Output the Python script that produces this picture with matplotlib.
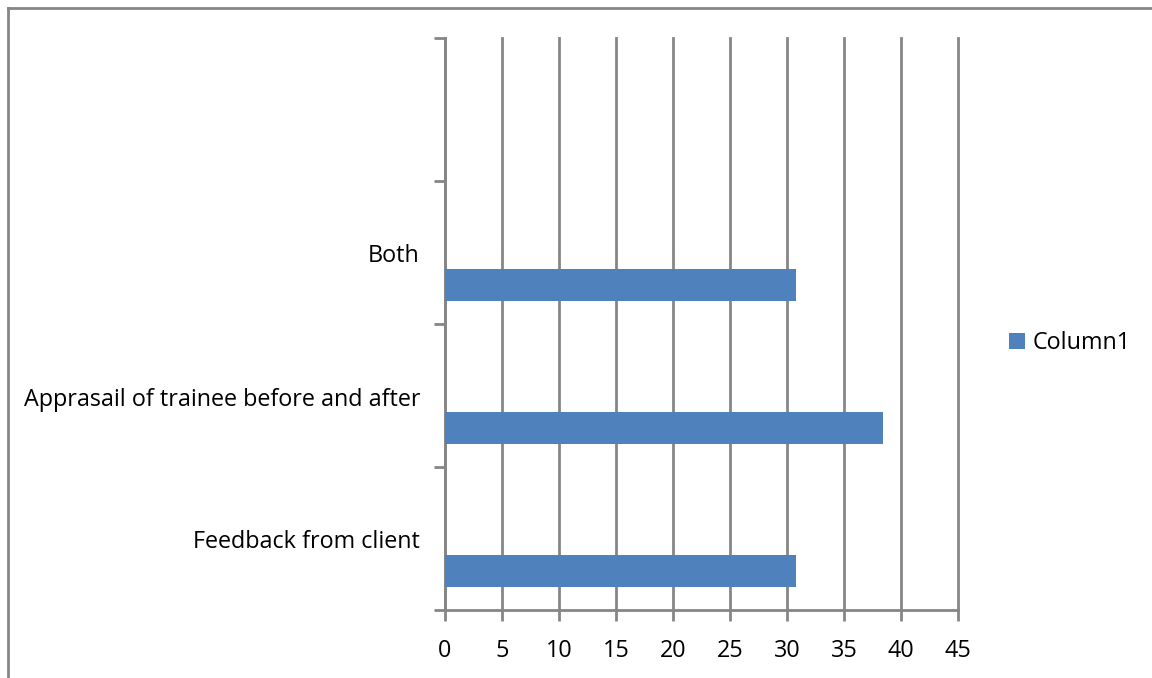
import numpy as np
import matplotlib.pyplot as plt
import matplotlib.transforms as mtransforms
from matplotlib.patches import Patch
from matplotlib.lines import Line2D

# ==========================================================
# DATA
# ==========================================================

categories = ["Feedback from client", "Apprasail of trainee before and after", "Both", ""]
values = [30.77, 38.46, 30.77, np.nan]
series_name = "Column1"
x_ticks = [0, 5, 10, 15, 20, 25, 30, 35, 40, 45]

BAR_COLOR = "#4f81bd"
GRID_COLOR = "#868686"
FS = 16.8

plt.rcParams["font.family"] = ["Open Sans", "DejaVu Sans"]

fig = plt.figure(figsize=(11.52, 6.78), dpi=100)
ax = fig.add_axes([445 / 1152, 68 / 678, 513 / 1152, 572 / 678])

# ==========================================================
# BARS (first series sits low in each category slot)
# ==========================================================

pos = np.arange(len(categories))
ax.barh(pos - 0.23, values, height=0.225, color=BAR_COLOR, zorder=3)

ax.set_xlim(0, 45)
ax.set_ylim(-0.5, len(categories) - 0.5)

ax.set_xticks(x_ticks)
ax.set_xticklabels([str(t) for t in x_ticks], fontsize=FS)
ax.xaxis.grid(True, color=GRID_COLOR, linewidth=2, zorder=0)
for gl in ax.get_xgridlines():
    gl.set_clip_on(False)
ax.tick_params(axis="x", length=8, width=2, color=GRID_COLOR, pad=13)

# category labels at slot centres, tick marks on slot borders
ax.set_yticks(pos)
ax.set_yticklabels(categories, fontsize=FS, va="center")
ax.tick_params(axis="y", which="major", length=0, pad=18)
ax.set_yticks(np.arange(len(categories) + 1) - 0.5, minor=True)
ax.tick_params(axis="y", which="minor", length=8, width=2, color=GRID_COLOR)
shift = mtransforms.ScaledTranslation(0, -4 / 100, fig.dpi_scale_trans)
for lbl in ax.get_yticklabels():
    lbl.set_transform(lbl.get_transform() + shift)

for side in ["top", "right"]:
    ax.spines[side].set_visible(False)
for side in ["left", "bottom"]:
    ax.spines[side].set_color(GRID_COLOR)
    ax.spines[side].set_linewidth(2)

# ==========================================================
# LEGEND
# ==========================================================

handle = Patch(facecolor=BAR_COLOR, edgecolor="none")
fig.legend([handle], [series_name], loc="center left",
           bbox_to_anchor=(988 / 1152, 1 - 343 / 678),
           frameon=False, fontsize=FS, handlelength=0.7,
           handleheight=0.7, handletextpad=0.3)

# outer chart border (left and top edges)
fig.add_artist(Line2D([7.5 / 1152, 7.5 / 1152], [0, 1 - 7.5 / 678],
                      color=GRID_COLOR, linewidth=2, transform=fig.transFigure))
fig.add_artist(Line2D([7.5 / 1152, 1], [1 - 7.5 / 678, 1 - 7.5 / 678],
                      color=GRID_COLOR, linewidth=2, transform=fig.transFigure))

fig.savefig("out.png", dpi=100)
